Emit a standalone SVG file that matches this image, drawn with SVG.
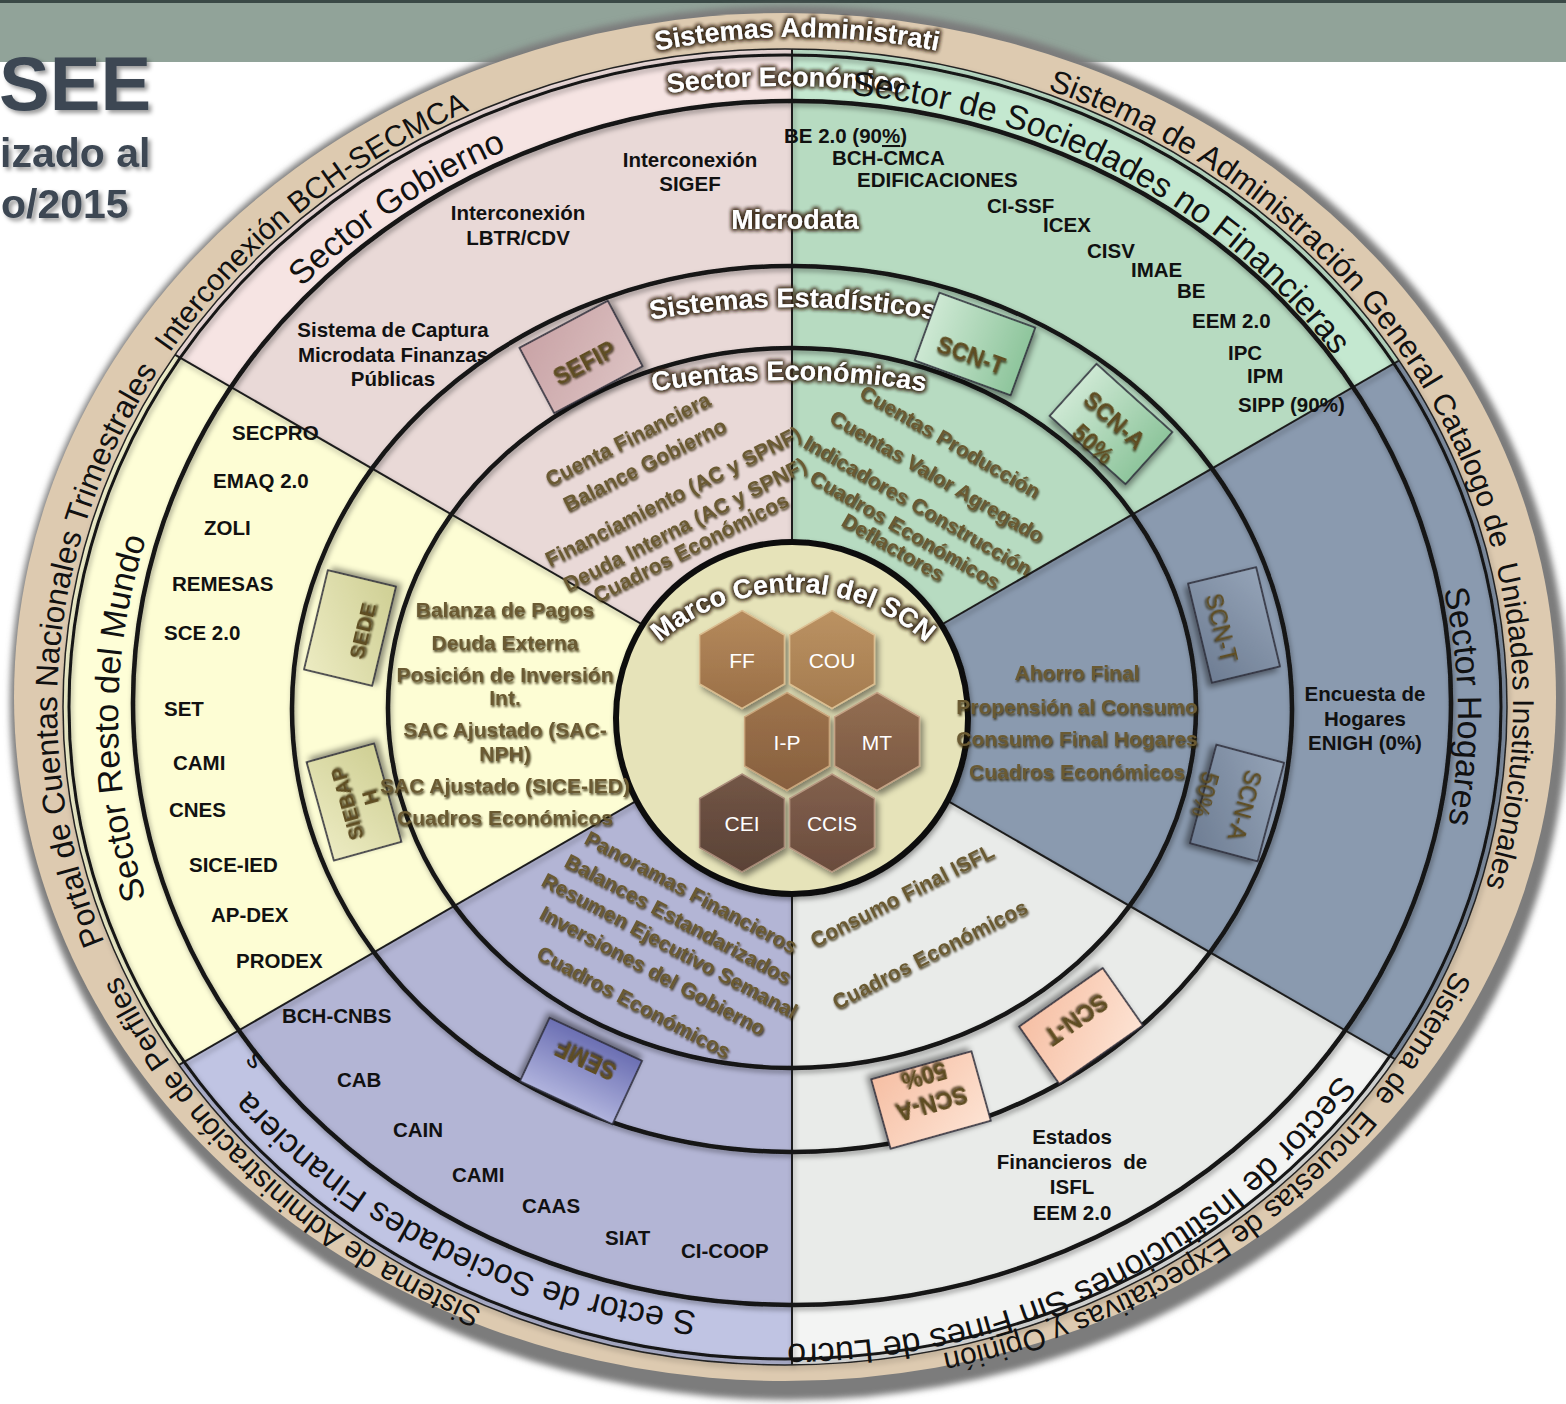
<svg xmlns="http://www.w3.org/2000/svg" width="1566" height="1404" viewBox="0 0 1566 1404">
<defs>
<style>
text{font-family:"Liberation Sans",Arial,sans-serif}
.k{font-weight:bold;font-size:20.5px;fill:#111}
.m{text-anchor:middle}
.rg{font-size:30px;fill:#111}
.sc{font-size:34px;fill:#111}
.w{font-weight:bold;font-size:27px;fill:#fff}
.ol{font-weight:bold;font-size:21px;fill:#6a5a32}
.bt{font-weight:bold;font-size:23px;fill:#5e4d22;text-anchor:middle}
.btn{font-size:23px;fill:#5e4d22;text-anchor:middle}
.hx{font-size:21px;fill:#fff;text-anchor:middle}
.ln{fill:none;stroke:#141414;stroke-width:4.5}
.dv{stroke:#1e1e1e;stroke-width:2}
.bx{stroke:#2b2b38;stroke-width:1.6}
</style>
<filter id="fw" x="-20%" y="-40%" width="140%" height="180%">
<feMorphology in="SourceAlpha" operator="dilate" radius="1" result="d"/>
<feGaussianBlur in="d" stdDeviation="2.2" result="b"/>
<feFlood flood-color="#3b2b1c"/>
<feComposite in2="b" operator="in" result="s"/>
<feMerge><feMergeNode in="s"/><feMergeNode in="s"/><feMergeNode in="SourceGraphic"/></feMerge>
</filter>
<filter id="fo" x="-10%" y="-30%" width="120%" height="160%">
<feGaussianBlur in="SourceAlpha" stdDeviation="1.3" result="b"/>
<feOffset in="b" dx="1" dy="1.5" result="o"/>
<feFlood flood-color="#2b200a" flood-opacity="0.85"/>
<feComposite in2="o" operator="in" result="s"/>
<feMerge><feMergeNode in="s"/><feMergeNode in="SourceGraphic"/></feMerge>
</filter>
<filter id="fs" x="-20%" y="-20%" width="150%" height="150%"><feDropShadow dx="3" dy="4" stdDeviation="3" flood-color="#000" flood-opacity="0.45"/></filter>
<filter id="fl" x="-5%" y="-5%" width="110%" height="110%"><feDropShadow dx="1.5" dy="3" stdDeviation="2.5" flood-color="#000" flood-opacity="0.35"/></filter>
<filter id="ft" x="-10%" y="-10%" width="130%" height="130%"><feDropShadow dx="3" dy="3" stdDeviation="2" flood-color="#000" flood-opacity="0.4"/></filter>
<filter id="fg" x="-5%" y="-5%" width="110%" height="110%"><feGaussianBlur stdDeviation="3"/></filter>
<linearGradient id="gSefip" x1="0" y1="0" x2="1" y2="1"><stop offset="0" stop-color="#c9a3a6"/><stop offset="1" stop-color="#dcc2c2"/></linearGradient>
<linearGradient id="gGreen" x1="0" y1="0" x2="1" y2="0"><stop offset="0" stop-color="#cde8d3"/><stop offset="1" stop-color="#8ec59c"/></linearGradient>
<linearGradient id="gSlate" x1="0" y1="0" x2="1" y2="1"><stop offset="0" stop-color="#94a3b7"/><stop offset="1" stop-color="#6e7d93"/></linearGradient>
<linearGradient id="gPeach" x1="0" y1="0" x2="1" y2="1"><stop offset="0" stop-color="#fde3d3"/><stop offset="1" stop-color="#f6bfa4"/></linearGradient>
<linearGradient id="gSemf" x1="0" y1="0" x2="0" y2="1"><stop offset="0" stop-color="#b0b3dd"/><stop offset="1" stop-color="#6b6fb3"/></linearGradient>
<linearGradient id="gYel" x1="0" y1="0" x2="1" y2="1"><stop offset="0" stop-color="#ecebc2"/><stop offset="1" stop-color="#cfcf94"/></linearGradient>
<linearGradient id="hFF" x1="0" y1="0" x2="0" y2="1"><stop offset="0" stop-color="#b58a5c"/><stop offset="1" stop-color="#9a6f47"/></linearGradient>
<linearGradient id="hCOU" x1="0" y1="0" x2="0" y2="1"><stop offset="0" stop-color="#bb9262"/><stop offset="1" stop-color="#a47b4f"/></linearGradient>
<linearGradient id="hIP" x1="0" y1="0" x2="0" y2="1"><stop offset="0" stop-color="#9e734b"/><stop offset="1" stop-color="#87603f"/></linearGradient>
<linearGradient id="hMT" x1="0" y1="0" x2="0" y2="1"><stop offset="0" stop-color="#936e52"/><stop offset="1" stop-color="#7a5842"/></linearGradient>
<linearGradient id="hCEI" x1="0" y1="0" x2="0" y2="1"><stop offset="0" stop-color="#735646"/><stop offset="1" stop-color="#5a4236"/></linearGradient>
<linearGradient id="hCCIS" x1="0" y1="0" x2="0" y2="1"><stop offset="0" stop-color="#82604d"/><stop offset="1" stop-color="#6a4c3d"/></linearGradient>
<path id="hex" d="M0,-49 L42.4,-24.5 L42.4,24.5 L0,49 L-42.4,24.5 L-42.4,-24.5Z"/>
<clipPath id="cBand"><ellipse cx="785" cy="707" rx="722" ry="658"/></clipPath>
<clipPath id="cMain"><ellipse cx="792" cy="703" rx="659" ry="602"/></clipPath>
<path id="pT1" d="M572.1,73.9 A728,662 0 0 1 1494.4,856"/>
<path id="pT2" d="M1085.7,104.1 A728,662 0 0 1 1208.8,1245.3"/>
<path id="pT3" d="M1499.6,580.7 A728,662 0 0 1 548,1332.9"/>
<path id="pT4" d="M948.8,1352.1 A728,662 0 0 1 88.8,513.4"/>
<path id="pT5" d="M371.6,1251.9 A728,662 0 0 1 472.8,109"/>
<path id="pT6" d="M77.1,861.5 A728,662 0 0 1 991.8,72.3"/>
<path id="pS1" d="M123,794.3 A670,626 0 0 1 1049.8,141.8"/>
<path id="pS2" d="M463.2,170.5 A670,626 0 0 1 1457.9,728.9"/>
<path id="pS3" d="M1112.8,170.5 A670,626 0 0 1 1133.1,1254.6"/>
<path id="pS4" d="M1457.8,734.4 A670,626 0 0 1 437.9,1251.7"/>
<path id="pS5" d="M1087,1258.5 A670,557 0 0 1 119.3,726"/>
<path id="pS6" d="M453,1260.1 A670,626 0 0 1 453,175.9"/>
<path id="pW1" d="M397,158.3 A720,720 0 0 1 1197,158.3"/>
<path id="pW2" d="M386,169.5 A1000,1000 0 0 1 1186,169.5"/>
<path id="pW3" d="M393,414.2 A800,800 0 0 1 1193,414.2"/>
<path id="pW4" d="M389,487.2 A800,800 0 0 1 1189,487.2"/>
<path id="pW5" d="M593,792 A200,200 0 0 1 993,792"/>
</defs>

<rect x="0" y="0" width="1566" height="1404" fill="#ffffff"/>
<g id="header">
<rect x="0" y="0" width="1566" height="62" fill="#91a399"/>
<rect x="0" y="0" width="1566" height="3" fill="#3a4946"/>
</g>
<g id="title" filter="url(#ft)" style="font-weight:bold;fill:#3c4753">
<text x="-1" y="110" style="font-size:76px">SEE</text>
<text x="0" y="167" style="font-size:41px">izado al</text>
<text x="1" y="218" style="font-size:41px">o/2015</text>
</g>

<g id="outer-ring">
<ellipse cx="789" cy="703" rx="779" ry="697" fill="#7b7b7b" filter="url(#fg)"/>
<ellipse cx="785" cy="697" rx="771" ry="684" fill="#ddcab0"/>
</g>

<g id="sectors">
<g clip-path="url(#cBand)">
<polygon points="792,711 792,-1000 -940,-1000 -940,-289" fill="#f6e4e3"/>
<polygon points="792,711 792,-1000 2524,-1000 2524,-289" fill="#c4e8d0"/>
<polygon points="792,711 2524,-289 2524,1711" fill="#8a9aaf"/>
<polygon points="792,711 2524,1711 2524,2500 792,2500" fill="#f3f4f3"/>
<polygon points="792,711 792,2500 -940,2500 -940,1711" fill="#c0c4e3"/>
<polygon points="792,711 -940,1711 -940,-289" fill="#fefed7"/>
</g>
<g clip-path="url(#cMain)">
<polygon points="792,711 792,-1000 -940,-1000 -940,-289" fill="#e9d9d7"/>
<polygon points="792,711 792,-1000 2524,-1000 2524,-289" fill="#b7dbc1"/>
<polygon points="792,711 2524,-289 2524,1711" fill="#8a9aaf"/>
<polygon points="792,711 2524,1711 2524,2500 792,2500" fill="#e9ebe9"/>
<polygon points="792,711 792,2500 -940,2500 -940,1711" fill="#b3b5d5"/>
<polygon points="792,711 -940,1711 -940,-289" fill="#fdfdd4"/>
</g>
</g>

<g id="connectors" filter="url(#fl)">
<g clip-path="url(#cBand)" class="dv">
<line x1="792" y1="711" x2="792" y2="-100"/>
<line x1="792" y1="711" x2="792" y2="1500"/>
<line x1="792" y1="711" x2="1658" y2="211"/>
<line x1="792" y1="711" x2="1658" y2="1211"/>
<line x1="792" y1="711" x2="-74" y2="211"/>
<line x1="792" y1="711" x2="-74" y2="1211"/>
</g>
<ellipse cx="785" cy="707" rx="722" ry="658" fill="none" stroke="#222" stroke-width="1.5"/>
<ellipse class="ln" cx="785" cy="707" rx="716" ry="652" style="stroke-width:3"/>
<ellipse class="ln" cx="792" cy="703" rx="659" ry="602"/>
<ellipse class="ln" cx="792" cy="709" rx="500" ry="443"/>
<ellipse class="ln" cx="792" cy="708" rx="404" ry="360"/>
</g>

<g id="ring-texts">
<text class="rg m" style="font-size:31.5px"><textPath href="#pT1" startOffset="50%">Sistema de Administración General</textPath></text>
<text class="rg m" xml:space="preserve"><textPath href="#pT2" startOffset="50%">Catalogo de  Unidades Institucionales</textPath></text>
<text class="rg m" xml:space="preserve"><textPath href="#pT3" startOffset="50%">Sistema de  Encuestas de Expectativas y Opinión</textPath></text>
<text class="rg m"><textPath href="#pT4" startOffset="50%">Sistema de Administración de Perfiles</textPath></text>
<text class="rg m" style="font-size:31.5px"><textPath href="#pT5" startOffset="50%">Portal de Cuentas Nacionales Trimestrales</textPath></text>
<text class="rg m"><textPath href="#pT6" startOffset="50%">Interconexión BCH-SECMCA</textPath></text>
<text class="w m" filter="url(#fw)"><textPath href="#pW1" startOffset="50%">Sistemas Administrati</textPath></text>
</g>

<g id="sector-titles">
<text class="sc m"><textPath href="#pS1" startOffset="50%">Sector Gobierno</textPath></text>
<text class="w m" filter="url(#fw)"><textPath href="#pW2" startOffset="50%">Sector Económico</textPath></text>
<text class="sc m"><textPath href="#pS2" startOffset="50%">Sector de Sociedades no Financieras</textPath></text>
<text class="sc m"><textPath href="#pS3" startOffset="50%">Sector Hogares</textPath></text>
<text class="sc m"><textPath href="#pS4" startOffset="50%">Sector de Instituciones Sin Fines de Lucro</textPath></text>
<text class="sc m"><textPath href="#pS5" startOffset="50%">S ector de Sociedades Financiera</textPath></text>
<text class="sc" transform="translate(265,1062) rotate(-126.8)" style="font-size:28px">s</text>
<text class="sc m"><textPath href="#pS6" startOffset="50%">Sector Resto del Mundo</textPath></text>
</g>

<g id="sector-gobierno">
<text class="k m" x="690" y="167">Interconexión</text>
<text class="k m" x="690" y="191">SIGEF</text>
<text class="k m" x="518" y="220">Interconexión</text>
<text class="k m" x="518" y="245">LBTR/CDV</text>
<text class="k m" x="393" y="337">Sistema de Captura</text>
<text class="k m" x="393" y="362">Microdata Finanzas</text>
<text class="k m" x="393" y="386">Públicas</text>
<text class="w m" x="795" y="229" filter="url(#fw)">Microdata</text>
</g>

<g id="sector-sociedades-no-financieras">
<text class="k" x="784" y="143">BE 2.0 (90<tspan text-decoration="underline">%</tspan>)</text>
<text class="k" x="832" y="165">BCH-CMCA</text>
<text class="k" x="857" y="187">EDIFICACIONES</text>
<text class="k" x="987" y="213">CI-SSF</text>
<text class="k" x="1043" y="232">ICEX</text>
<text class="k" x="1087" y="258">CISV</text>
<text class="k" x="1131" y="277">IMAE</text>
<text class="k" x="1177" y="298">BE</text>
<text class="k" x="1192" y="328">EEM 2.0</text>
<text class="k" x="1228" y="360">IPC</text>
<text class="k" x="1247" y="383">IPM</text>
<text class="k" x="1238" y="412">SIPP (90%)</text>
</g>

<g id="sector-hogares">
<text class="k m" x="1365" y="701">Encuesta de</text>
<text class="k m" x="1365" y="726">Hogares</text>
<text class="k m" x="1365" y="750">ENIGH (0%)</text>
</g>

<g id="sector-isfl">
<text class="k m" x="1072" y="1144">Estados</text>
<text class="k m" x="1072" y="1169" xml:space="preserve">Financieros  de</text>
<text class="k m" x="1072" y="1194">ISFL</text>
<text class="k m" x="1072" y="1220">EEM 2.0</text>
</g>

<g id="sector-financieras">
<text class="k" x="282" y="1023">BCH-CNBS</text>
<text class="k" x="337" y="1087">CAB</text>
<text class="k" x="393" y="1137">CAIN</text>
<text class="k" x="452" y="1182">CAMI</text>
<text class="k" x="522" y="1213">CAAS</text>
<text class="k" x="605" y="1245">SIAT</text>
<text class="k" x="681" y="1258">CI-COOP</text>
</g>

<g id="sector-resto-mundo">
<text class="k" x="232" y="440">SECPRO</text>
<text class="k" x="213" y="488">EMAQ 2.0</text>
<text class="k" x="204" y="535">ZOLI</text>
<text class="k" x="172" y="591">REMESAS</text>
<text class="k" x="164" y="640">SCE 2.0</text>
<text class="k" x="164" y="716">SET</text>
<text class="k" x="173" y="770">CAMI</text>
<text class="k" x="169" y="817">CNES</text>
<text class="k" x="189" y="872">SICE-IED</text>
<text class="k" x="211" y="922">AP-DEX</text>
<text class="k" x="236" y="968">PRODEX</text>
</g>

<g id="ring-labels">
<text class="w m" filter="url(#fw)"><textPath href="#pW3" startOffset="50%">Sistemas Estadísticos</textPath></text>
<text class="w m" filter="url(#fw)"><textPath href="#pW4" startOffset="50%">Cuentas Económicas</textPath></text>
</g>

<g id="box-sefip" transform="translate(581,357) rotate(-28)">
<rect x="-50" y="-37" width="100" height="74" class="bx" fill="url(#gSefip)" filter="url(#fs)"/>
<text class="bt" y="15" filter="url(#fo)">SEFIP</text>
</g>
<g id="box-scnt-green" transform="translate(975,344) rotate(20)">
<rect x="-51" y="-36" width="102" height="72" class="bx" fill="url(#gGreen)" filter="url(#fs)"/>
<text class="bt" y="20" filter="url(#fo)">SCN-T</text>
</g>
<g id="box-scna-green" transform="translate(1111,424) rotate(42)">
<rect x="-51" y="-35" width="102" height="70" class="bx" fill="url(#gGreen)" filter="url(#fs)"/>
<text class="bt" y="3" filter="url(#fo)">SCN-A</text>
<text class="bt" y="35" filter="url(#fo)">50%</text>
</g>
<g id="box-scnt-slate" transform="translate(1234,625) rotate(76.5)">
<rect x="-51" y="-35" width="102" height="70" class="bx" fill="url(#gSlate)" filter="url(#fs)"/>
<text class="btn" y="21" filter="url(#fo)">SCN-T</text>
</g>
<g id="box-scna-slate" transform="translate(1237,803) rotate(105)">
<rect x="-51" y="-35" width="102" height="70" class="bx" fill="url(#gSlate)" filter="url(#fs)"/>
<text class="btn" y="0" filter="url(#fo)">SCN-A</text>
<text class="btn" y="41" filter="url(#fo)">50%</text>
</g>
<g id="box-scnt-peach" transform="translate(1081,1026) rotate(145)">
<rect x="-51" y="-35" width="102" height="70" class="bx" fill="url(#gPeach)" filter="url(#fs)"/>
<text class="bt" y="16" filter="url(#fo)">SCN-T</text>
</g>
<g id="box-scna-peach" transform="translate(931,1100) rotate(164.4)">
<rect x="-52" y="-36" width="104" height="72" class="bx" fill="url(#gPeach)" filter="url(#fs)"/>
<text class="bt" y="4" filter="url(#fo)">SCN-A</text>
<text class="bt" y="33" filter="url(#fo)">50%</text>
</g>
<g id="box-semf" transform="translate(581,1071) rotate(205)">
<rect x="-51" y="-35" width="102" height="70" class="bx" fill="url(#gSemf)" filter="url(#fs)"/>
<text class="bt" y="20" filter="url(#fo)">SEMF</text>
</g>
<g id="box-sede" transform="translate(350,628) rotate(-76.5)">
<rect x="-51" y="-35" width="102" height="70" class="bx" fill="url(#gYel)" filter="url(#fs)"/>
<text class="bt" y="20" style="font-size:21px" filter="url(#fo)">SEDE</text>
</g>
<g id="box-siebaph" transform="translate(354,802) rotate(-105.5)">
<rect x="-51" y="-35" width="102" height="70" class="bx" fill="url(#gYel)" filter="url(#fs)"/>
<text class="bt" y="0" style="font-size:20px" filter="url(#fo)">SIEBAP</text>
<text class="bt" y="24" style="font-size:20px" filter="url(#fo)">H</text>
</g>

<g id="core">
<circle cx="792" cy="718" r="176" fill="#e6e3b9" stroke="#111" stroke-width="6" filter="url(#fl)"/>
<g id="hex-ff" transform="translate(742,659.5)"><use href="#hex" fill="url(#hFF)" stroke="#d9bb8e" stroke-width="1.5" filter="url(#fs)"/><text class="hx" y="8">FF</text></g>
<g id="hex-cou" transform="translate(832,659.5)"><use href="#hex" fill="url(#hCOU)" stroke="#dcbf92" stroke-width="1.5" filter="url(#fs)"/><text class="hx" y="8">COU</text></g>
<g id="hex-ip" transform="translate(787,741.5)"><use href="#hex" fill="url(#hIP)" stroke="#c9a57c" stroke-width="1.5" filter="url(#fs)"/><text class="hx" y="8">I-P</text></g>
<g id="hex-mt" transform="translate(877,741.5)"><use href="#hex" fill="url(#hMT)" stroke="#c4a285" stroke-width="1.5" filter="url(#fs)"/><text class="hx" y="8">MT</text></g>
<g id="hex-cei" transform="translate(742,823)"><use href="#hex" fill="url(#hCEI)" stroke="#a88a78" stroke-width="1.5" filter="url(#fs)"/><text class="hx" y="8">CEI</text></g>
<g id="hex-ccis" transform="translate(832,823)"><use href="#hex" fill="url(#hCCIS)" stroke="#b69680" stroke-width="1.5" filter="url(#fs)"/><text class="hx" y="8">CCIS</text></g>
<text class="w m" filter="url(#fw)"><textPath href="#pW5" startOffset="50%">Marco Central del SCN</textPath></text>
</g>

<g id="cuentas" filter="url(#fo)">
<g class="ol">
<text transform="translate(550,487) rotate(-27)">Cuenta Financiera</text>
<text transform="translate(568,512) rotate(-27)">Balance Gobierno</text>
<text transform="translate(550,567) rotate(-27)">Financiamiento (AC y SPNF)</text>
<text transform="translate(568,592) rotate(-27)">Deuda Interna (AC y SPNF)</text>
<text transform="translate(598,603) rotate(-27)">Cuadros Económicos</text>
<text transform="translate(858,397) rotate(30)">Cuentas Producción</text>
<text transform="translate(828,422) rotate(30)">Cuentas Valor Agregado</text>
<text transform="translate(802,447) rotate(30)">Indicadores Construcción</text>
<text transform="translate(808,482) rotate(30)">Cuadros Económicos</text>
<text transform="translate(840,525) rotate(30)">Deflactores</text>
<text transform="translate(583,843) rotate(28)">Panoramas Financieros</text>
<text transform="translate(563,866) rotate(28)">Balances Estandarizados</text>
<text transform="translate(540,885) rotate(28)">Resumen Ejecutivo Semanal</text>
<text transform="translate(538,918) rotate(28)">Inversiones del Gobierno</text>
<text transform="translate(535,958) rotate(28)">Cuadros Económicos</text>
<text transform="translate(815,948) rotate(-27)">Consumo Final ISFL</text>
<text transform="translate(837,1010) rotate(-27)">Cuadros Económicos</text>
</g>
<g class="ol m">
<text x="1077" y="680">Ahorro Final</text>
<text x="1077" y="714">Propensión al Consumo</text>
<text x="1077" y="746">Consumo Final Hogares</text>
<text x="1077" y="779">Cuadros Económicos</text>
<text x="505" y="617">Balanza de Pagos</text>
<text x="505" y="650">Deuda Externa</text>
<text x="505" y="682">Posición de Inversión</text>
<text x="505" y="705">Int.</text>
<text x="505" y="737">SAC Ajustado (SAC-</text>
<text x="505" y="761">NPH)</text>
<text x="505" y="793">SAC Ajustado (SICE-IED)</text>
<text x="505" y="825">Cuadros Económicos</text>
</g>
</g>
</svg>
